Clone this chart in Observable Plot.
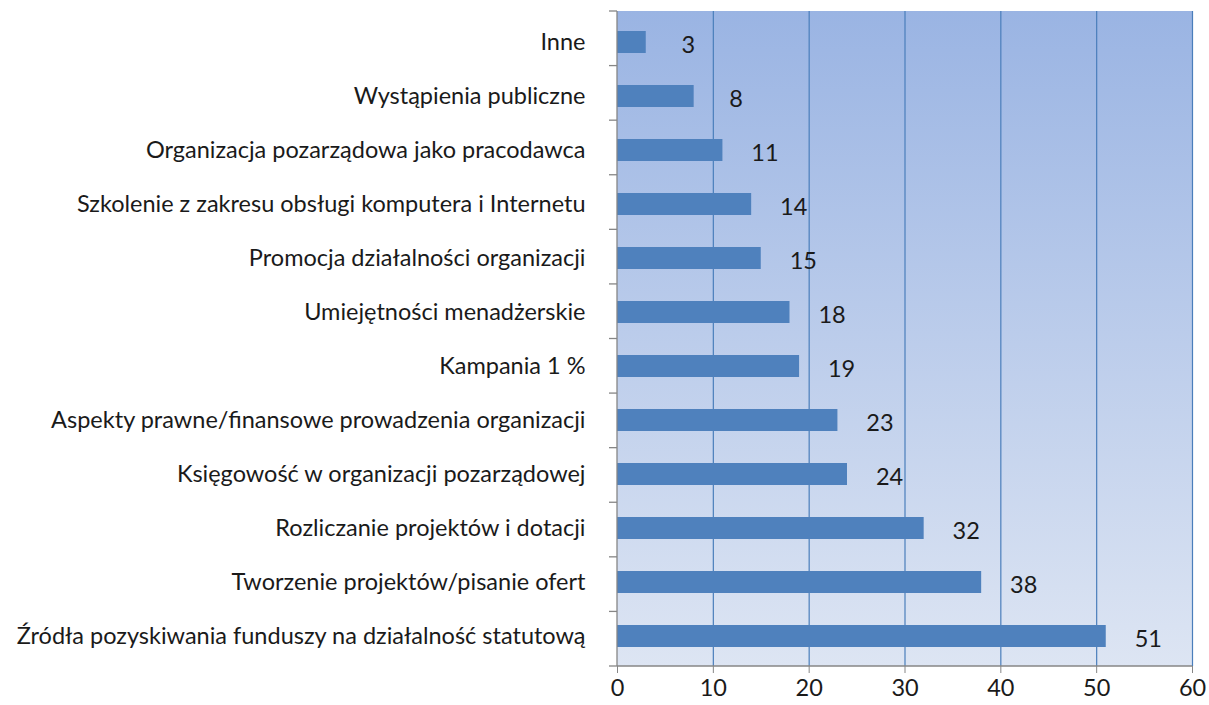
<!DOCTYPE html>
<html>
<head>
<meta charset="utf-8">
<script src="https://cdn.jsdelivr.net/npm/d3@7"></script>
<script src="https://cdn.jsdelivr.net/npm/@observablehq/plot@0.6"></script>
<style>
  html, body { margin: 0; padding: 0; background: #fff; }
</style>
</head>
<body>
<div id="chart"></div>
<script>
const categories = [
  "Inne",
  "Wystąpienia publiczne",
  "Organizacja pozarządowa jako pracodawca",
  "Szkolenie z zakresu obsługi komputera i Internetu",
  "Promocja działalności organizacji",
  "Umiejętności menadżerskie",
  "Kampania 1 %",
  "Aspekty prawne/finansowe prowadzenia organizacji",
  "Księgowość w organizacji pozarządowej",
  "Rozliczanie projektów i dotacji",
  "Tworzenie projektów/pisanie ofert",
  "Źródła pozyskiwania funduszy na działalność statutową"
];
const values = [3, 8, 11, 14, 15, 18, 19, 23, 24, 32, 38, 51];
const xTicks = [0, 10, 20, 30, 40, 50, 60];

const data = categories.map((c, i) => ({category: c, value: values[i]}));

const axisGray = "#868686";
const barBlue = "#4F81BD";
const gridBlue = "#4a7ebb";

function background(index, scales, values, dim) {
  const g = d3.create("svg:g");
  const defs = g.append("defs");
  const lg = defs.append("linearGradient")
    .attr("id", "bg").attr("x1", 0).attr("y1", 0).attr("x2", 0).attr("y2", 1);
  lg.append("stop").attr("offset", "0%").attr("stop-color", "#9ab4e3");
  lg.append("stop").attr("offset", "100%").attr("stop-color", "#dde5f3");
  const x0 = dim.marginLeft, x1 = dim.width - dim.marginRight;
  const y0 = dim.marginTop, y1 = dim.height - dim.marginBottom;
  g.append("rect").attr("x", x0).attr("y", y0)
    .attr("width", x1 - x0).attr("height", y1 - y0)
    .attr("fill", "url(#bg)");
  return g.node();
}

function frameLines(index, scales, values, dim) {
  const g = d3.create("svg:g").attr("stroke", axisGray).attr("stroke-width", 1.3);
  const x0 = dim.marginLeft, x1 = dim.width - dim.marginRight;
  const y0 = dim.marginTop, y1 = dim.height - dim.marginBottom;
  g.append("line").attr("x1", x0).attr("x2", x0).attr("y1", y0).attr("y2", y1);
  g.append("line").attr("x1", x0).attr("x2", x1).attr("y1", y1).attr("y2", y1);
  const n = categories.length;
  for (let k = 0; k <= n; k++) {
    const y = y0 + (k * (y1 - y0)) / n;
    g.append("line").attr("x1", x0 - 8).attr("x2", x0).attr("y1", y).attr("y2", y);
  }
  return g.node();
}

const chart = Plot.plot({
  width: 1209,
  height: 705,
  marginLeft: 617,
  marginRight: 17,
  marginTop: 11,
  marginBottom: 39,
  style: {fontFamily: "Lato, sans-serif", fontSize: "23.5px", color: "#1a1a1a", background: "transparent"},
  x: {domain: [0, 60], ticks: xTicks},
  y: {domain: categories, paddingInner: 0.6, paddingOuter: 0.3, label: null},
  marks: [
    background,
    Plot.ruleX(xTicks.filter(t => t > 0), {stroke: gridBlue, strokeWidth: 1.2}),
    Plot.barX(data, {x: "value", y: "category", fill: barBlue}),
    Plot.text(data, {x: "value", y: "category", text: d => String(d.value), dx: 42, dy: 3, fontSize: 23.5, fill: "#1a1a1a", textAnchor: "middle"}),
    frameLines,
    Plot.axisX({ticks: xTicks, tickSize: 7, tickPadding: 6, stroke: axisGray, fill: "#1a1a1a", label: null, fontSize: 23.5}),
    Plot.axisY({tickSize: 0, tickPadding: 32, fill: "#1a1a1a", label: null, fontSize: 23.5})
  ]
});

document.getElementById("chart").appendChild(chart);
</script>
</body>
</html>
